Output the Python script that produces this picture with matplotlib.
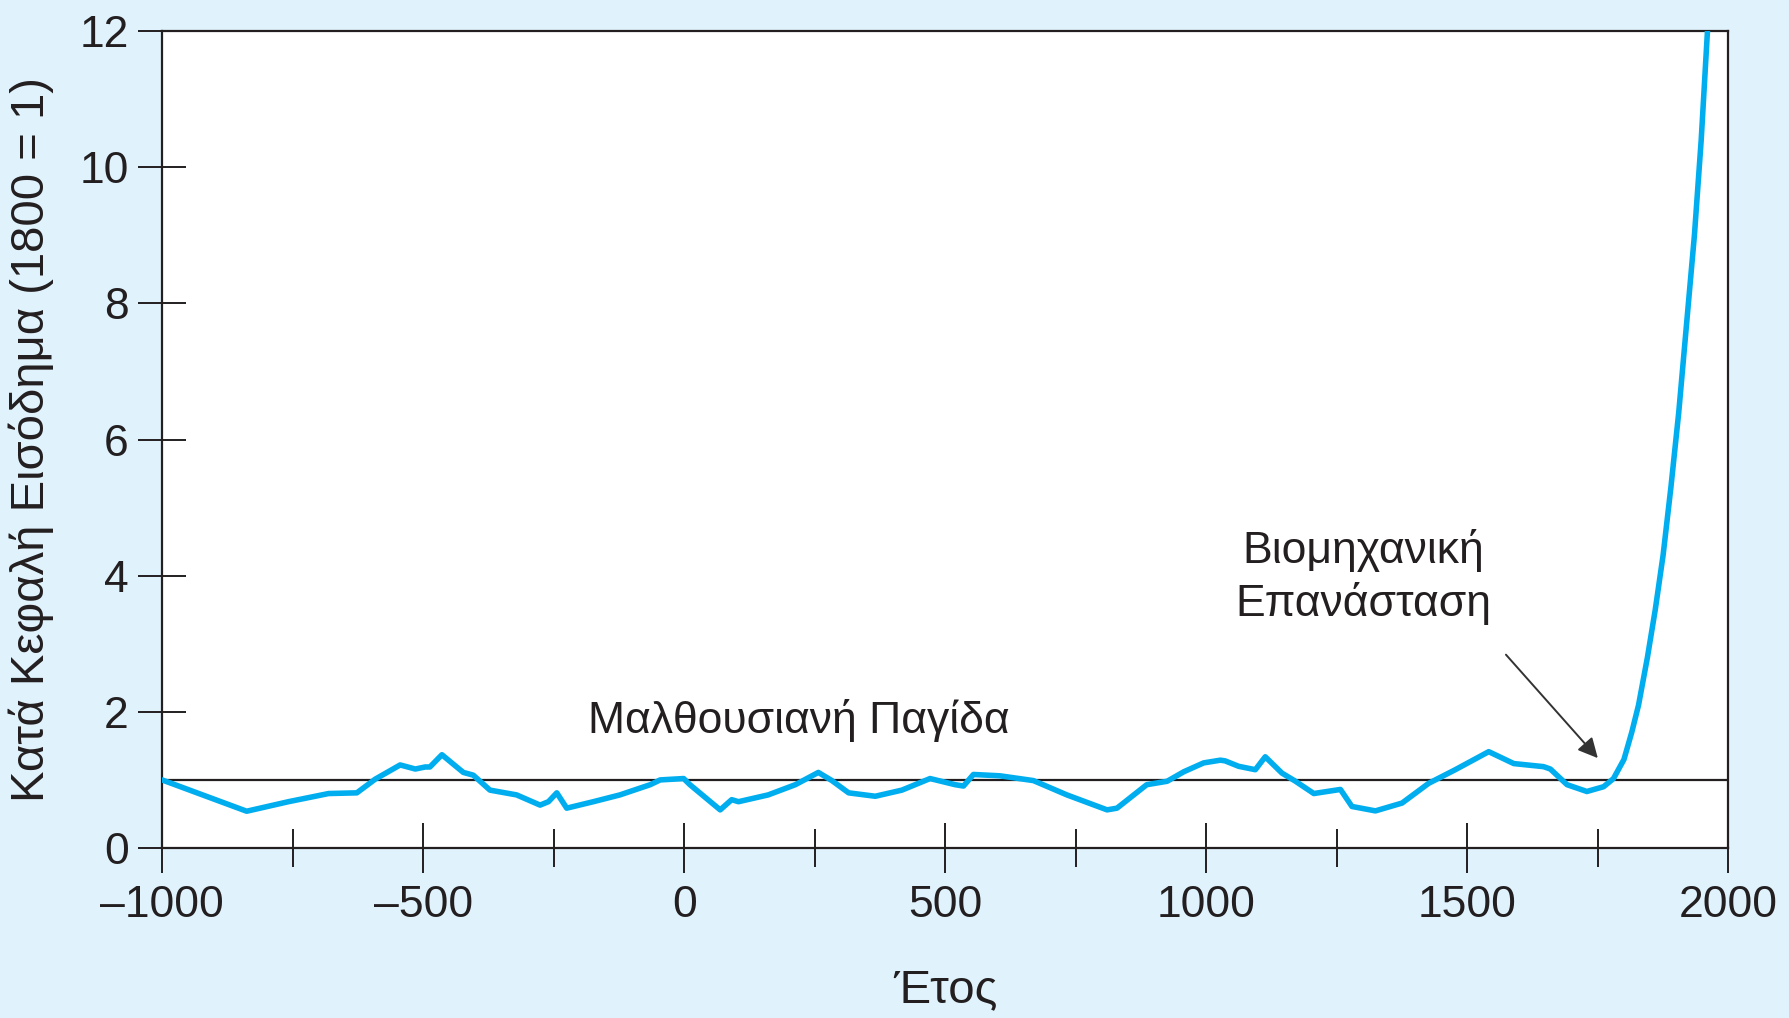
import numpy as np
import matplotlib
matplotlib.use("Agg")
from matplotlib import pyplot as plt
from matplotlib.ticker import MultipleLocator

plt.rcParams['font.family'] = ['Liberation Sans Narrow', 'Liberation Sans', 'DejaVu Sans']

#%% # Data (year, income per head with 1800 = 1)

years = [-1000, -838, -758, -681, -627, -592, -544, -515, -496, -487, -464, -442, -423,
         -404, -372, -321, -276, -260, -244, -225, -174, -123, -65, -46, -1, 11,
         69, 91, 104, 161, 213, 257, 283, 315, 366, 417, 471, 519, 535, 554, 605,
         669, 733, 810, 829, 886, 925, 957, 995, 1027, 1036, 1062, 1094, 1113,
         1145, 1171, 1206, 1257, 1279, 1324, 1375, 1426, 1477, 1541, 1589, 1646,
         1659, 1691, 1729, 1761, 1780, 1800, 1815, 1828, 1845, 1860, 1875, 1890,
         1905, 1920, 1935, 1948, 1960, 1966]
income = [1.00, 0.54, 0.68, 0.80, 0.81, 1.01, 1.22, 1.16, 1.19, 1.19, 1.37, 1.23, 1.11,
          1.07, 0.85, 0.78, 0.63, 0.68, 0.81, 0.585, 0.68, 0.78, 0.93, 1.00, 1.02, 0.93,
          0.56, 0.71, 0.68, 0.78, 0.93, 1.11, 0.99, 0.81, 0.76, 0.85, 1.02, 0.93, 0.91,
          1.08, 1.06, 0.99, 0.78, 0.56, 0.585, 0.93, 0.98, 1.12, 1.25, 1.29, 1.28, 1.20,
          1.15, 1.34, 1.10, 0.98, 0.80, 0.86, 0.61, 0.545, 0.66, 0.95, 1.15, 1.415, 1.24,
          1.195, 1.16, 0.93, 0.83, 0.90, 1.02, 1.30, 1.70, 2.1, 2.8, 3.5, 4.3, 5.3,
          6.4, 7.7, 9.0, 10.4, 12.0, 12.9]

xlabel = "Έτος"
ylabel = "Κατά Κεφαλή Εισόδημα (1800 = 1)"
trap_label = "Μαλθουσιανή Παγίδα"
ir_label = "Βιομηχανική\nΕπανάσταση"

#%% # Plot

bg = '#e0f2fc'
ink = '#231f20'

fig = plt.figure(figsize=(17.89, 10.18), dpi=100, facecolor=bg)
ax = fig.add_axes([0.0906, 0.167, 0.8755, 0.8025])
ax.set_facecolor('white')

ax.axhline(1, color=ink, lw=1.6, zorder=2)
ax.plot(years, income, color='#00aeef', lw=4, solid_joinstyle='round',
        solid_capstyle='round', zorder=3)

ax.text(220, 1.87, trap_label, ha='center', va='center', fontsize=32, color=ink)
ax.text(1300, 3.98, ir_label, ha='center', va='center', fontsize=32, color=ink,
        linespacing=1.3)
ax.annotate('', xy=(1750, 1.32), xytext=(1574, 2.84),
            arrowprops=dict(arrowstyle='-|>', color='#333333', lw=1.4,
                            mutation_scale=30, shrinkA=0, shrinkB=0))

ax.set_xlim(-1000, 2000)
ax.set_ylim(0, 12)
ax.xaxis.set_major_locator(MultipleLocator(500))
ax.xaxis.set_minor_locator(MultipleLocator(250))
ax.yaxis.set_major_locator(MultipleLocator(2))
ax.set_xticklabels([f"{int(v)}".replace('-', '\u2013') for v in ax.get_xticks()])

for side in ax.spines.values():
    side.set_color(ink)
    side.set_linewidth(1.6)

ax.tick_params(axis='x', which='major', direction='inout', length=36, width=1.4,
               color=ink, labelsize=32, pad=9, labelcolor=ink)
ax.tick_params(axis='x', which='minor', direction='inout', length=28, width=1.4,
               color=ink)
ax.tick_params(axis='y', which='major', direction='inout', length=34, width=1.4,
               color=ink, labelsize=32, pad=7, labelcolor=ink)

ax.set_xlabel(xlabel, fontsize=34, color=ink, labelpad=30)
ax.set_ylabel(ylabel, fontsize=34, color=ink, labelpad=18)

plt.savefig("out.png", dpi=100, facecolor=bg)
